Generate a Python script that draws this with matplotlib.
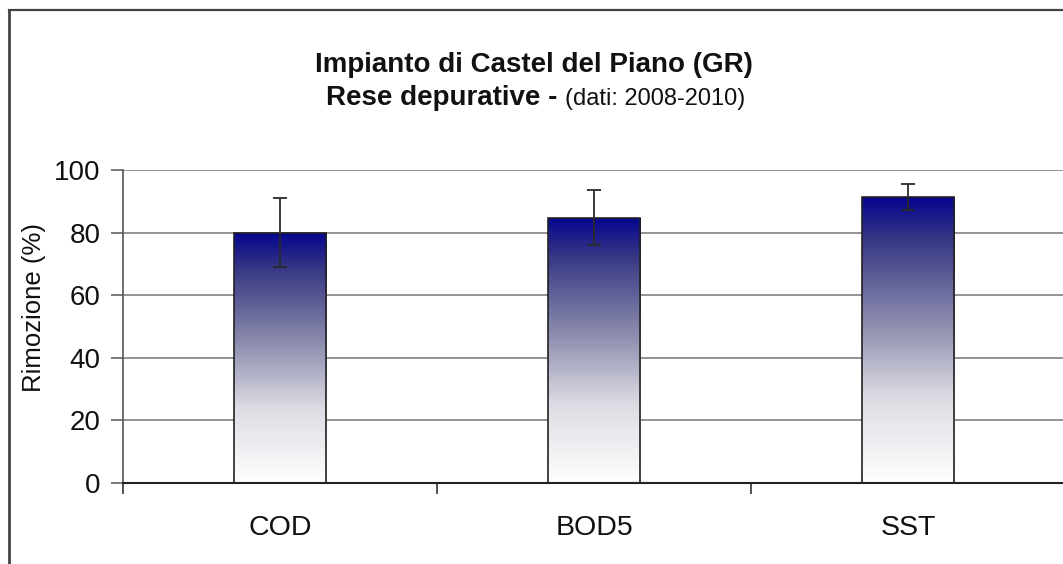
import numpy as np
import matplotlib
matplotlib.use("Agg")
import matplotlib.pyplot as plt
from matplotlib.colors import LinearSegmentedColormap
from matplotlib.patches import Rectangle
from matplotlib.lines import Line2D

plt.rcParams['font.family'] = ['Liberation Sans', 'DejaVu Sans']

# Removal efficiency data (2008-2010)
categories = ["COD", "BOD5", "SST"]
removal = [80.0, 84.8, 91.3]
errors = [11.0, 8.8, 4.2]
y_ticks = [0, 20, 40, 60, 80, 100]

W, H = 1063, 564
fig = plt.figure(figsize=(W / 100, H / 100), dpi=100)
fig.patch.set_facecolor("white")

ax = fig.add_axes([123 / W, 81 / H, 942 / W, 313 / H])
ax.set_xlim(-0.5, len(categories) - 0.5)
ax.set_ylim(0, 100)

# gridlines
for t in y_ticks[1:]:
    ax.axhline(t, color="#808080", lw=1.2, zorder=1)

# navy-to-white gradient fill for each bar
cmap = LinearSegmentedColormap.from_list(
    "navy_fade",
    [(0.0, (1.0, 1.0, 1.0)),
     (0.3, (0.86, 0.86, 0.89)),
     (0.55, (0.56, 0.56, 0.69)),
     (0.85, (0.22, 0.22, 0.52)),
     (1.0, (0.02, 0.02, 0.56))])
grad = np.linspace(0, 1, 256).reshape(-1, 1)
width = 0.296
x = np.arange(len(categories))
for xi, v in zip(x, removal):
    rect = Rectangle((xi - width / 2, 0), width, v, facecolor="none",
                     edgecolor="#222222", lw=1.2, zorder=3)
    ax.add_patch(rect)
    im = ax.imshow(grad, cmap=cmap, origin="lower", aspect="auto",
                   extent=(xi - width / 2, xi + width / 2, 0, v), zorder=2)
    im.set_clip_path(rect)

ax.errorbar(x, removal, yerr=errors, fmt="none", ecolor="#2a2a2a",
            elinewidth=1.3, capsize=5, capthick=1.3, zorder=4)

# axes styling
for s in ["top", "right"]:
    ax.spines[s].set_visible(False)
ax.spines["left"].set_color("#555555")
ax.spines["left"].set_linewidth(1.2)
ax.spines["bottom"].set_color("#222222")
ax.spines["bottom"].set_linewidth(1.5)

ax.set_yticks(y_ticks)
ax.tick_params(axis="y", labelsize=20, length=9, width=1.1, color="#555555",
               pad=7, labelcolor="#111111")
ax.set_xticks(x)
ax.set_xticklabels(categories)
ax.tick_params(axis="x", which="major", length=0, labelsize=20.5, pad=23,
               labelcolor="#111111")
ax.set_xticks(np.arange(-0.5, len(categories), 1.0), minor=True)
ax.tick_params(axis="x", which="minor", length=8, width=1.1, color="#222222")

ax.set_ylabel("Rimozione (%)", fontsize=18.5, color="#111111")
ax.yaxis.set_label_coords(-0.082, 0.56)
ax.set_facecolor("none")

# chart titles
fig.text(534 / W, 1 - 72 / H, "Impianto di Castel del Piano (GR)",
         ha="center", va="baseline", fontsize=20, fontweight="bold",
         color="#111111")
part1 = "Rese depurative - "
part2 = "(dati: 2008-2010)"
t1 = fig.text(0, 1 - 105 / H, part1, ha="left", va="baseline", fontsize=20,
              fontweight="bold", color="#111111")
t2 = fig.text(0, 1 - 105 / H, part2, ha="left", va="baseline", fontsize=17,
              color="#111111")
fig.canvas.draw()
w1 = t1.get_window_extent().width
w2 = t2.get_window_extent().width
x0 = 536 - (w1 + w2) / 2
t1.set_x(x0 / W)
t2.set_x((x0 + w1) / W)

# outer chart frame (left and top edges)
fig.add_artist(Line2D([8.5 / W, 8.5 / W], [0, 1 - 10 / H],
                      transform=fig.transFigure, color="#444444", lw=2))
fig.add_artist(Line2D([8.5 / W, 1], [1 - 10 / H, 1 - 10 / H],
                      transform=fig.transFigure, color="#444444", lw=1.6))

fig.savefig("out.png", dpi=100)
